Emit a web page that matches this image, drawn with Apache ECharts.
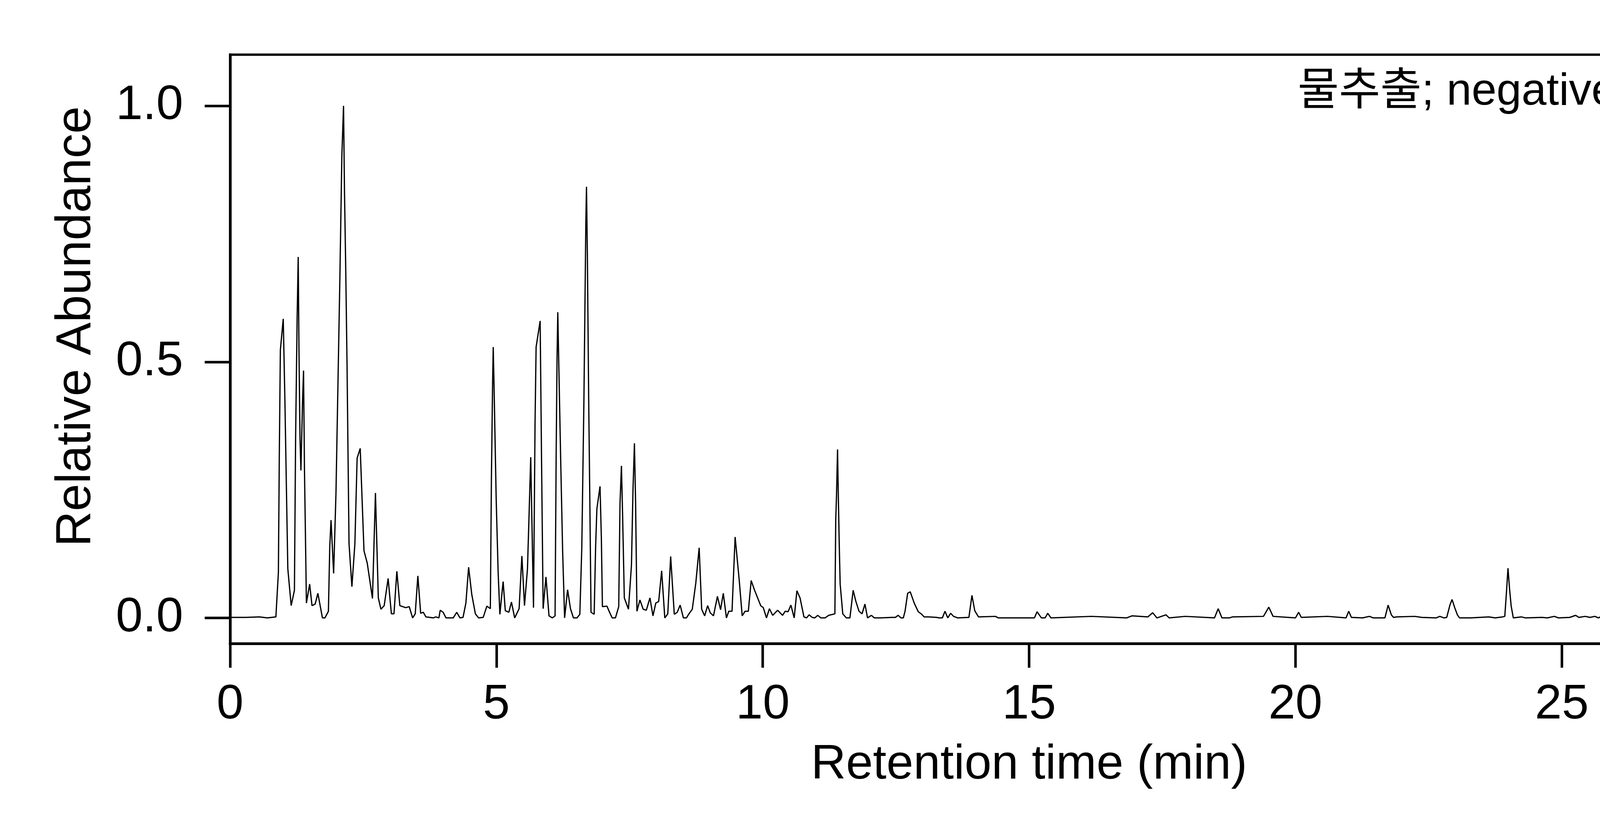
<!DOCTYPE html>
<html lang="ko">
<head>
  <meta charset="UTF-8">
  <title>Chromatogram</title>
  <style>
    html, body { margin: 0; padding: 0; background: #fff; }
    #main { width: 6000px; height: 2100px; }
  </style>
</head>
<body>
  <div id="main"></div>
  <script src="https://cdn.jsdelivr.net/npm/echarts@6/dist/echarts.min.js"></script>
  <script>
    // retention time (min)
    const rtMin = [
      0, 0.3, 0.55, 0.7, 0.86, 0.907, 0.924, 0.944, 0.998, 1.03, 1.059, 1.084, 1.147, 1.208, 1.23, 1.259, 1.279, 1.293, 1.313, 1.33,
      1.36, 1.379, 1.396, 1.413, 1.433, 1.494, 1.538, 1.597, 1.648, 1.734, 1.78, 1.846, 1.871, 1.895, 1.92, 1.944, 1.988, 2.025, 2.062, 2.098,
      2.13, 2.147, 2.171, 2.196, 2.233, 2.287, 2.343, 2.385, 2.443, 2.514, 2.575, 2.673, 2.729, 2.783, 2.832, 2.893, 2.967, 3.028, 3.077, 3.131,
      3.187, 3.297, 3.363, 3.427, 3.476, 3.525, 3.578, 3.627, 3.676, 3.82, 3.859, 3.92, 3.945, 3.999, 4.054, 4.19, 4.255, 4.316, 4.373, 4.427,
      4.478, 4.537, 4.605, 4.666, 4.752, 4.821, 4.886, 4.906, 4.928, 4.94, 4.955, 4.996, 5.033, 5.065, 5.126, 5.167, 5.233, 5.282, 5.343, 5.426,
      5.478, 5.527, 5.583, 5.615, 5.644, 5.669, 5.696, 5.725, 5.745, 5.821, 5.848, 5.877, 5.93, 5.987, 6.048, 6.101, 6.121, 6.138, 6.152, 6.17,
      6.206, 6.243, 6.28, 6.336, 6.39, 6.446, 6.512, 6.566, 6.603, 6.642, 6.664, 6.679, 6.691, 6.708, 6.732, 6.752, 6.776, 6.835, 6.862, 6.886,
      6.945, 6.97, 6.99, 7.075, 7.124, 7.173, 7.234, 7.296, 7.32, 7.347, 7.369, 7.401, 7.479, 7.535, 7.564, 7.591, 7.613, 7.638, 7.694, 7.755,
      7.814, 7.882, 7.939, 7.992, 8.046, 8.102, 8.161, 8.217, 8.271, 8.339, 8.395, 8.449, 8.51, 8.567, 8.615, 8.677, 8.743, 8.806, 8.853, 8.909,
      8.965, 9.014, 9.075, 9.149, 9.208, 9.259, 9.318, 9.362, 9.423, 9.481, 9.557, 9.614, 9.668, 9.729, 9.783, 9.839, 9.961, 10.01, 10.07, 10.125,
      10.186, 10.279, 10.372, 10.421, 10.475, 10.528, 10.59, 10.641, 10.7, 10.773, 10.822, 10.871, 10.927, 10.976, 11.032, 11.091, 11.17, 11.237, 11.354, 11.37,
      11.384, 11.404, 11.416, 11.436, 11.453, 11.502, 11.568, 11.636, 11.697, 11.746, 11.807, 11.864, 11.918, 11.967, 12.04, 12.094, 12.21, 12.43, 12.49, 12.541,
      12.597, 12.639, 12.671, 12.72, 12.768, 12.847, 12.92, 12.974, 13.03, 13.116, 13.263, 13.312, 13.372, 13.421, 13.473, 13.527, 13.582, 13.66, 13.87, 13.927,
      13.98, 14.05, 14.37, 14.42, 15.1, 15.15, 15.23, 15.3, 15.35, 15.41, 16.17, 16.83, 16.93, 17.23, 17.32, 17.4, 17.57, 17.63, 17.93, 18.48,
      18.55, 18.62, 18.76, 18.82, 19.4, 19.5, 19.58, 20.0, 20.06, 20.11, 20.6, 20.95, 21.0, 21.05, 21.26, 21.39, 21.46, 21.68, 21.74, 21.8,
      21.84, 21.9, 22.24, 22.37, 22.64, 22.71, 22.79, 22.84, 22.9, 22.94, 22.99, 23.04, 23.08, 23.29, 23.63, 23.75, 23.89, 23.93, 23.96, 23.99,
      24.02, 24.05, 24.09, 24.24, 24.32, 24.63, 24.73, 24.86, 24.94, 25.15, 25.26, 25.32, 25.44, 25.53, 25.62, 25.69, 25.74, 25.81, 25.86, 25.91,
      25.99, 26.04, 26.09, 26.17, 26.38, 26.78, 26.83, 26.88, 27.04, 28.09, 28.87, 28.91, 28.97, 28.99, 29.01, 29.05, 29.1, 29.17, 29.26, 29.34,
      29.43, 29.49, 29.56, 29.68, 29.75, 29.8, 29.87, 29.97, 30.0
    ];
    // relative abundance at each retention time
    const relAbund = [
      0.001, 0.001, 0.002, 0.0, 0.002, 0.089, 0.315, 0.523, 0.584, 0.421, 0.244, 0.096, 0.024, 0.054, 0.35, 0.587, 0.705, 0.527, 0.35, 0.288,
      0.421, 0.483, 0.294, 0.174, 0.029, 0.066, 0.024, 0.027, 0.048, 0.0, 0.0, 0.013, 0.138, 0.191, 0.138, 0.087, 0.244, 0.456, 0.668, 0.901,
      1.0, 0.838, 0.683, 0.492, 0.145, 0.061, 0.145, 0.312, 0.331, 0.131, 0.107, 0.038, 0.244, 0.039, 0.017, 0.024, 0.077, 0.008, 0.008, 0.091,
      0.024, 0.02, 0.022, 0.0, 0.008, 0.082, 0.009, 0.011, 0.002, 0.0, 0.002, 0.0, 0.015, 0.011, 0.0, 0.0, 0.011, 0.0, 0.001, 0.029,
      0.099, 0.046, 0.008, 0.0, 0.001, 0.023, 0.018, 0.273, 0.456, 0.529, 0.456, 0.23, 0.087, 0.007, 0.071, 0.014, 0.011, 0.031, 0.0, 0.018,
      0.121, 0.024, 0.096, 0.209, 0.314, 0.174, 0.02, 0.379, 0.529, 0.58, 0.301, 0.018, 0.08, 0.004, 0.0, 0.004, 0.311, 0.506, 0.597, 0.5,
      0.311, 0.131, 0.0, 0.055, 0.018, 0.0, 0.0, 0.007, 0.138, 0.421, 0.63, 0.775, 0.842, 0.704, 0.428, 0.244, 0.011, 0.007, 0.138, 0.213,
      0.257, 0.156, 0.022, 0.023, 0.011, 0.0, 0.0, 0.022, 0.223, 0.297, 0.2, 0.039, 0.017, 0.103, 0.251, 0.341, 0.223, 0.013, 0.035, 0.017,
      0.015, 0.039, 0.004, 0.029, 0.032, 0.092, 0.0, 0.008, 0.12, 0.007, 0.011, 0.025, 0.0, 0.0, 0.008, 0.017, 0.068, 0.137, 0.017, 0.004,
      0.024, 0.01, 0.004, 0.042, 0.016, 0.048, 0.0, 0.013, 0.013, 0.158, 0.075, 0.004, 0.013, 0.013, 0.073, 0.056, 0.024, 0.02, 0.0, 0.018,
      0.005, 0.015, 0.005, 0.013, 0.012, 0.025, 0.0, 0.053, 0.039, 0.002, 0.0, 0.006, 0.001, 0.0, 0.005, 0.0, 0.0, 0.005, 0.008, 0.191,
      0.237, 0.329, 0.252, 0.143, 0.066, 0.008, 0.0, 0.0, 0.054, 0.033, 0.013, 0.008, 0.027, 0.0, 0.005, 0.0, 0.0, 0.001, 0.001, 0.005,
      0.0, 0.0, 0.013, 0.048, 0.051, 0.028, 0.012, 0.008, 0.002, 0.002, 0.001, 0.0, 0.0, 0.013, 0.0, 0.009, 0.003, 0.0, 0.001, 0.044,
      0.014, 0.002, 0.003, 0.0, 0.0, 0.012, 0.0, 0.0, 0.009, 0.0, 0.003, 0.0, 0.004, 0.002, 0.01, 0.0, 0.006, 0.0, 0.003, 0.0,
      0.018, 0.0, 0.0, 0.002, 0.003, 0.021, 0.003, 0.0, 0.011, 0.001, 0.003, 0.0, 0.013, 0.001, 0.0, 0.003, 0.0, 0.0, 0.025, 0.006,
      0.001, 0.002, 0.003, 0.001, 0.0, 0.003, 0.0, 0.001, 0.025, 0.036, 0.02, 0.006, 0.0, 0.0, 0.002, 0.0, 0.002, 0.003, 0.048, 0.097,
      0.056, 0.023, 0.0, 0.002, 0.0, 0.001, 0.0, 0.003, 0.0, 0.001, 0.005, 0.001, 0.003, 0.001, 0.003, 0.0, 0.003, 0.001, 0.006, 0.003,
      0.001, 0.003, 0.008, 0.0, 0.0, 0.002, 0.005, 0.0, 0.0, 0.0, 0.0, 0.005, 0.046, 0.112, 0.191, 0.163, 0.071, 0.038, 0.014, 0.01,
      0.003, 0.005, 0.011, 0.009, 0.015, 0.015, 0.009, 0.008, 0.007
    ];

    const xTicks = [0, 5, 10, 15, 20, 25, 30];
    const yTicks = [0, 0.5, 1.0];

    const font = "'Liberation Sans', Arial, 'Noto Sans CJK KR', sans-serif";
    const myChart = echarts.init(document.getElementById('main'), null, { renderer: 'canvas' });

    const option = {
      animation: false,
      backgroundColor: '#fff',
      title: {
        text: '물추출; negative ion mode',
        right: 1352,
        top: 174,
        textStyle: { fontFamily: font, fontSize: 115, fontWeight: 'normal', color: '#000' }
      },
      grid: {
        left: 589, right: 1320, top: 140, bottom: 452,
        show: true, borderColor: '#000', borderWidth: 6, backgroundColor: 'transparent'
      },
      xAxis: {
        type: 'value',
        min: xTicks[0], max: xTicks[xTicks.length - 1], interval: 5,
        name: 'Retention time (min)',
        nameLocation: 'middle',
        nameGap: 250,
        nameTextStyle: { fontFamily: font, fontSize: 124, color: '#000' },
        axisLine: { show: true, onZero: false, lineStyle: { color: '#000', width: 7 } },
        axisTick: { show: true, inside: false, length: 62, lineStyle: { color: '#000', width: 6.5 } },
        axisLabel: { fontFamily: font, fontSize: 124, color: '#000', margin: 96 },
        splitLine: { show: false }
      },
      yAxis: {
        type: 'value',
        min: -0.05, max: 1.1,
        name: 'Relative Abundance',
        nameLocation: 'middle',
        nameGap: 330,
        nameTextStyle: { fontFamily: font, fontSize: 126, color: '#000', padding: [0, 0, 0, 116] },
        axisLine: { show: true, onZero: false, lineStyle: { color: '#000', width: 7 } },
        axisTick: { show: true, inside: false, length: 65, customValues: yTicks, lineStyle: { color: '#000', width: 6.5 } },
        axisLabel: {
          fontFamily: font, fontSize: 124, color: '#000', margin: 120,
          customValues: yTicks,
          formatter: v => v.toFixed(1)
        },
        splitLine: { show: false }
      },
      series: [{
        type: 'line',
        data: rtMin.map((t, i) => [t, relAbund[i]]),
        showSymbol: false,
        symbol: 'none',
        lineStyle: { color: '#000', width: 3.2 },
        clip: true
      }]
    };

    myChart.setOption(option);
  </script>
</body>
</html>
